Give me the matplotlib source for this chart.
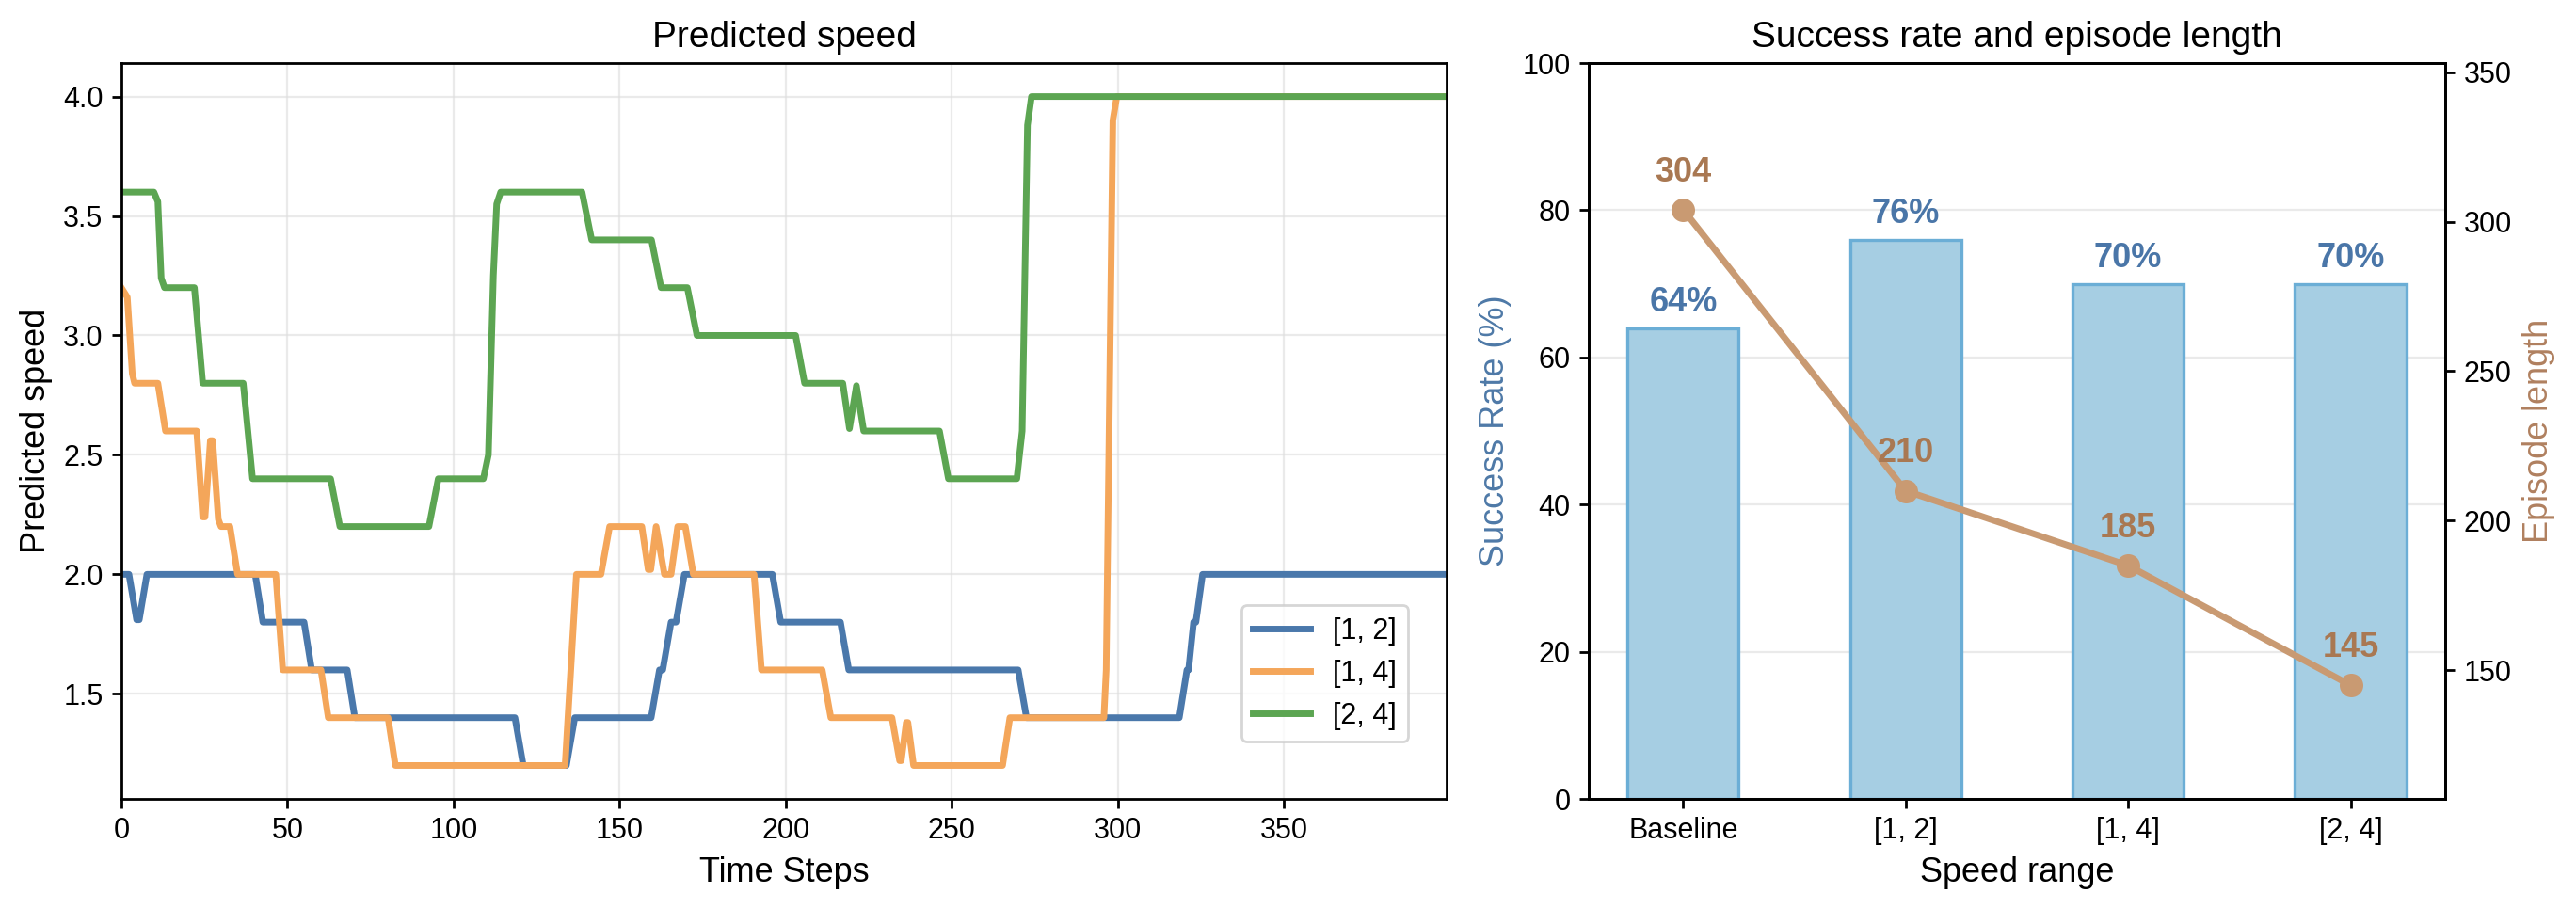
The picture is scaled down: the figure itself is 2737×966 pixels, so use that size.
import numpy as np
import matplotlib
matplotlib.use("Agg")
import matplotlib.pyplot as plt

plt.rcParams['font.family'] = ['Liberation Sans', 'DejaVu Sans']

# predicted speed as (time step, value) vertices
blue_t = [0, 2.3, 4.6, 5.4, 7.7, 40.3, 42.6, 55, 57.3, 68, 70.3, 118.5, 121, 134, 136.5,
          159.5, 162, 163, 165.5, 167, 169.5, 196, 198.5, 216.5, 219, 270, 272.5,
          318.5, 320.8, 321.3, 322.8, 323.5, 325.5, 399]
blue_v = [2.0, 2.0, 1.81, 1.81, 2.0, 2.0, 1.8, 1.8, 1.6, 1.6, 1.4, 1.4, 1.2, 1.2, 1.4,
          1.4, 1.6, 1.6, 1.8, 1.8, 2.0, 2.0, 1.8, 1.8, 1.6, 1.6, 1.4,
          1.4, 1.6, 1.6, 1.8, 1.8, 2.0, 2.0]

orange_t = [0, 1.8, 3.3, 4, 11, 13.3, 22.7, 24.5, 25.2, 26.8, 27.5, 29.2, 30, 32.7, 35,
            46.5, 48.6, 60.1, 62.3, 80.3, 82.5, 133.6, 137, 144.4, 147,
            156.7, 158.6, 159.4, 161, 163.5, 165.5, 167.5, 169.8, 172.2, 190.5, 192.7,
            211, 213.6, 232, 234.3, 234.8, 236.3, 236.8, 238.5, 265.3, 267.5,
            295.8, 296.5, 298.5, 299.7, 399]
orange_v = [3.2, 3.16, 2.84, 2.8, 2.8, 2.6, 2.6, 2.24, 2.24, 2.56, 2.56, 2.23, 2.2, 2.2, 2.0,
            2.0, 1.6, 1.6, 1.4, 1.4, 1.2, 1.2, 2.0, 2.0, 2.2,
            2.2, 2.02, 2.02, 2.2, 2.0, 2.0, 2.2, 2.2, 2.0, 2.0, 1.6,
            1.6, 1.4, 1.4, 1.22, 1.22, 1.38, 1.38, 1.2, 1.2, 1.4,
            1.4, 1.6, 3.9, 4.0, 4.0]

green_t = [0, 9.8, 11, 12, 13, 22, 24.5, 36.7, 39.5, 63, 65.8, 92.6, 95.4,
           109, 110.5, 112, 113, 114.2, 138.7, 141.6, 159.6, 162.5, 170.4, 173.3,
           203, 205.7, 217.2, 219.2, 221.3, 223.5, 246.3, 249,
           269.6, 271.2, 272.8, 274, 399]
green_v = [3.6, 3.6, 3.56, 3.24, 3.2, 3.2, 2.8, 2.8, 2.4, 2.4, 2.2, 2.2, 2.4,
           2.4, 2.5, 3.25, 3.55, 3.6, 3.6, 3.4, 3.4, 3.2, 3.2, 3.0,
           3.0, 2.8, 2.8, 2.61, 2.79, 2.6, 2.6, 2.4,
           2.4, 2.6, 3.88, 4.0, 4.0]

# success rate / episode length
categories = ['Baseline', '[1, 2]', '[1, 4]', '[2, 4]']
success = [64, 76, 70, 70]
ep_len = [304, 210, 185, 145]

fig = plt.figure(figsize=(13.685, 4.83), dpi=200)
ax = fig.add_axes([0.0471, 0.1211, 0.5145, 0.8095])
ax2 = fig.add_axes([0.6167, 0.1211, 0.3325, 0.8095])

# left: predicted speed
ax.plot(blue_t, blue_v, color='#4a78ab', lw=2.5, label='[1, 2]', solid_joinstyle='round')
ax.plot(orange_t, orange_v, color='#f4a65a', lw=2.5, label='[1, 4]', solid_joinstyle='round')
ax.plot(green_t, green_v, color='#5ca552', lw=2.5, label='[2, 4]', solid_joinstyle='round')
ax.set_xlim(0, 399)
ax.set_xticks(np.arange(0, 400, 50))
ax.set_yticks([1.5, 2.0, 2.5, 3.0, 3.5, 4.0])
ax.grid(True, color='#dddddd', alpha=0.6, lw=0.8)
ax.set_title('Predicted speed', fontsize=14)
ax.set_xlabel('Time Steps', fontsize=13)
ax.set_ylabel('Predicted speed', fontsize=13)
ax.tick_params(labelsize=11, width=1)
for s in ax.spines.values():
    s.set_linewidth(1.0)
ax.legend(loc='lower right', bbox_to_anchor=(0.982, 0.058), fontsize=11)

# right: bars + episode length
x = np.arange(len(categories))
ax2.bar(x, success, width=0.5, color='#a6cee3', edgecolor='#6baed6', linewidth=1.2, zorder=2)
ax2.set_axisbelow(True)
ax2.grid(True, axis='y', color='#dddddd', alpha=0.6, lw=0.8)
ax2.set_ylim(0, 100)
ax2.set_xticks(x)
ax2.set_xticklabels(categories)
ax2.set_xlabel('Speed range', fontsize=13)
ax2.set_ylabel('Success Rate (%)', fontsize=13, color='#4e79a7')
ax2.set_title('Success rate and episode length', fontsize=14)
ax2.tick_params(labelsize=11, width=1)
for i, v in enumerate(success):
    ax2.text(i, v + 1.2, f'{v}%', ha='center', va='bottom', fontsize=13,
             fontweight='bold', color='#4a76a8')

ax3 = ax2.twinx()
ax3.plot(x, ep_len, 'o-', color='#c99a72', lw=2.5, ms=8)
ax3.set_ylim(107, 353)
ax3.set_yticks([150, 200, 250, 300, 350])
ax3.set_ylabel('Episode length', fontsize=13, color='#b0805f')
ax3.tick_params(labelsize=11, width=1)
for i, v in enumerate(ep_len):
    ax3.annotate(str(v), (i, v), xytext=(0, 8), textcoords='offset points',
                 ha='center', va='bottom', fontsize=13, fontweight='bold', color='#a97852')
for a in (ax2, ax3):
    for s in a.spines.values():
        s.set_linewidth(1.0)

fig.savefig('out.png', dpi=200)
